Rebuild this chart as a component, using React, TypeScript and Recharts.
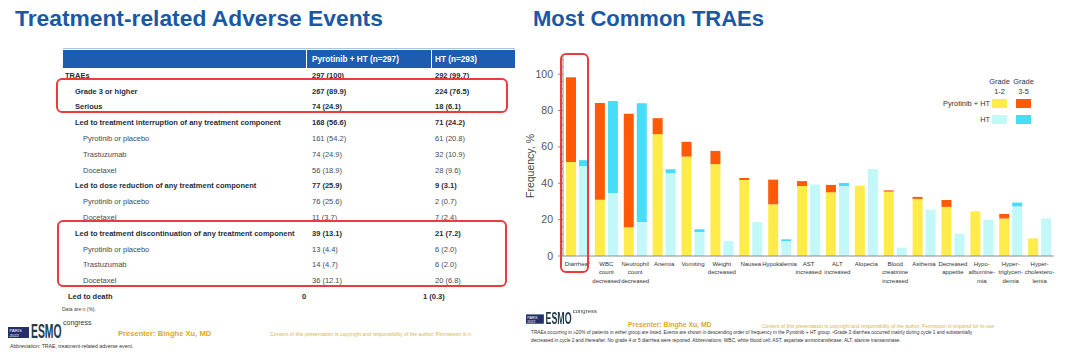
import React from 'react';
import { BarChart, Bar, XAxis, YAxis } from 'recharts';

// ---------- Chart data ----------
const categories = [
  'Diarrhea', 'WBC count decreased', 'Neutrophil count decreased', 'Anemia', 'Vomiting',
  'Weight decreased', 'Nausea', 'Hypokalemia', 'AST increased', 'ALT increased', 'Alopecia',
  'Blood creatinine increased', 'Asthenia', 'Decreased appetite', 'Hypoalbuminemia',
  'Hypertriglyceridemia', 'Hypercholesterolemia',
];
const tickLabelLines: string[][] = [
  ['Diarrhea'], ['WBC', 'count', 'decreased'], ['Neutrophil', 'count', 'decreased'], ['Anemia'],
  ['Vomiting'], ['Weight', 'decreased'], ['Nausea'], ['Hypokalemia'], ['AST', 'increased'],
  ['ALT', 'increased'], ['Alopecia'], ['Blood', 'creatinine', 'increased'], ['Asthenia'],
  ['Decreased', 'appetite'], ['Hypo-', 'albumine-', 'mia'], ['Hyper-', 'triglyceri-', 'demia'],
  ['Hyper-', 'cholestero-', 'lemia'],
];
const pyrGrade12 = [51.7, 31.0, 15.8, 67.0, 54.7, 50.5, 41.8, 28.4, 38.5, 35.0, 38.7, 35.4, 31.4, 27.0, 24.6, 20.6, 9.7];
const pyrGrade35 = [46.6, 53.2, 62.5, 8.8, 8.1, 7.3, 1.1, 13.6, 2.7, 4.1, 0, 0.7, 1.1, 3.8, 0, 2.5, 0];
const htGrade12 = [49.5, 34.7, 18.7, 45.5, 13.2, 8.3, 18.7, 8.1, 39.3, 38.5, 47.9, 4.6, 25.5, 12.3, 20.0, 27.3, 20.7];
const htGrade35 = [3.2, 50.6, 65.3, 2.2, 1.5, 0, 0, 1.1, 0, 1.7, 0, 0, 0, 0, 0, 2.1, 0];
const yMajorTicks = [0, 20, 40, 60, 80, 100];
const yAllTicks = [0, 4, 8, 12, 16, 20, 24, 28, 32, 36, 40, 44, 48, 52, 56, 60, 64, 68, 72, 76, 80, 84, 88, 92, 96, 100, 104, 108];

// ---------- Table data ----------
const rowLabels = [
  'TRAEs', 'Grade 3 or higher', 'Serious', 'Led to treatment interruption of any treatment component',
  'Pyrotinib or placebo', 'Trastuzumab', 'Docetaxel', 'Led to dose reduction of any treatment component',
  'Pyrotinib or placebo', 'Docetaxel', 'Led to treatment discontinuation of any treatment component',
  'Pyrotinib or placebo', 'Trastuzumab', 'Docetaxel', 'Led to death',
];
const pyrColumn = ['297 (100)', '267 (89.9)', '74 (24.9)', '168 (56.6)', '161 (54.2)', '74 (24.9)', '56 (18.9)', '77 (25.9)', '76 (25.6)', '11 (3.7)', '39 (13.1)', '13 (4.4)', '14 (4.7)', '36 (12.1)', '0'];
const htColumn = ['292 (99.7)', '224 (76.5)', '18 (6.1)', '71 (24.2)', '61 (20.8)', '32 (10.9)', '28 (9.6)', '9 (3.1)', '2 (0.7)', '7 (2.4)', '21 (7.2)', '6 (2.0)', '6 (2.0)', '20 (6.8)', '1 (0.3)'];
const rowLevels = [0, 1, 1, 1, 2, 2, 2, 1, 2, 2, 1, 2, 2, 2, 3];

const data = categories.map((name, i) => ({
  name,
  pyr12: pyrGrade12[i],
  pyr35: pyrGrade35[i],
  ht12: htGrade12[i],
  ht35: htGrade35[i],
}));

const FONT = '"Liberation Sans", Arial, sans-serif';
const YELLOW = '#FFEC4A';
const ORANGE = '#FF5A08';
const LIGHTCYAN = '#C2F8F8';
const CYAN = '#45DDF8';
const TITLE_BLUE = '#1B58A4';
const GOLD = '#DDAA22';

const AXIS_X = 63; // local x of y axis
const PLOT_BOTTOM = 216; // local y of x axis

const YTick = (props: any) => {
  const { y, payload } = props;
  const v = payload.value;
  const major = yMajorTicks.includes(v);
  return (
    <g>
      <line x1={AXIS_X} x2={AXIS_X - (major ? 5 : 3)} y1={y} y2={y} stroke="#8a8a8a" strokeWidth={1} />
      {major && (
        <text x={AXIS_X - 10} y={y} dy={3.5} textAnchor="end" fontSize={10.5} fill="#555" fontFamily={FONT}>
          {v}
        </text>
      )}
    </g>
  );
};

const XTick = (props: any) => {
  const { x, payload, index } = props;
  const idx = payload && payload.index !== undefined ? payload.index : index;
  const lines = tickLabelLines[idx] || [String(payload.value)];
  return (
    <text x={x} y={PLOT_BOTTOM + 10} textAnchor="middle" fontSize={6} fill="#333" fontFamily={FONT}>
      {lines.map((l, i) => (
        <tspan key={i} x={x} dy={i === 0 ? 0 : 8.3}>
          {l}
          {idx === 0 && i === 0 ? <tspan fontSize={4} dy={-2.5}>a</tspan> : null}
        </tspan>
      ))}
    </text>
  );
};

const T = ({ x, y, size, color, bold, children, anchor, family, style }: any) => (
  <span
    style={{
      position: 'absolute',
      left: x,
      top: y,
      transform: `translate(${anchor === 'end' ? '-100%' : anchor === 'middle' ? '-50%' : '0'}, -50%)`,
      fontSize: size,
      lineHeight: 1,
      color: color,
      fontWeight: bold ? 700 : 400,
      whiteSpace: 'nowrap',
      fontFamily: family || FONT,
      ...style,
    }}
  >
    {children}
  </span>
);

const RedBox = ({ x, y, w, h }: any) => (
  <div
    style={{
      position: 'absolute',
      left: x,
      top: y,
      width: w,
      height: h,
      border: '2px solid #EE3A3F',
      borderRadius: 6,
      boxSizing: 'border-box',
    }}
  />
);

// Logo: (x, y) is top-left of the logo block
const EsmoLogo = ({ x, y, s = 1 }: any) => (
  <div style={{ position: 'absolute', left: x, top: y, width: 90, height: 20, transform: `scale(${s})`, transformOrigin: 'left top' }}>
    <div
      style={{
        position: 'absolute', left: 0, top: 4, width: 21, height: 11, background: '#24306A',
        color: '#fff', fontSize: 4.2, lineHeight: '5px', fontFamily: FONT, padding: '0.5px 1.5px', boxSizing: 'border-box',
      }}
    >
      PARIS<br />2022
    </div>
    <div style={{ position: 'absolute', left: 23, top: -2, width: 30, height: 20, overflow: 'visible' }}>
      <span
        style={{
          position: 'absolute', left: 0, top: 0, fontSize: 20, fontWeight: 700, lineHeight: '20px',
          fontFamily: FONT, color: '#1E3A4C', whiteSpace: 'nowrap',
          transform: 'scaleX(0.52)', transformOrigin: 'left top', display: 'inline-block',
        }}
      >
        ESMO
      </span>
    </div>
    <span style={{ position: 'absolute', left: 55, top: -4, fontSize: 7, lineHeight: 1, fontFamily: FONT, color: '#2a3a44' }}>
      congress
    </span>
  </div>
);

export default function App() {
  const rowY = (i: number) => 75.7 + i * 15.8;
  return (
    <div
      style={{
        position: 'absolute', left: 0, top: 0, width: 1080, height: 356, background: '#fff',
        overflow: 'hidden', fontFamily: FONT,
      }}
    >
      {/* Titles */}
      <T x={15} y={18} size={22.8} bold color={TITLE_BLUE}>Treatment-related Adverse Events</T>
      <T x={533} y={19} size={22} bold color={TITLE_BLUE}>Most Common TRAEs</T>

      {/* Table header */}
      <div style={{ position: 'absolute', left: 63, top: 48, width: 452, height: 1, background: '#A9C4E4' }} />
      <div style={{ position: 'absolute', left: 63, top: 50, width: 243, height: 18, background: '#1D5CB1' }} />
      <div style={{ position: 'absolute', left: 307, top: 50, width: 124, height: 18, background: '#1D5CB1' }} />
      <div style={{ position: 'absolute', left: 432, top: 50, width: 83, height: 18, background: '#1D5CB1' }} />
      <T x={312} y={59.5} size={8.2} bold color="#fff">Pyrotinib + HT (n=297)</T>
      <T x={435} y={59.5} size={8.2} bold color="#fff">HT (n=293)</T>

      {/* Table rows */}
      {rowLabels.map((label, i) => {
        const lvl = rowLevels[i];
        const bold = lvl !== 2;
        const lx = lvl === 0 ? 65 : lvl === 1 ? 75 : lvl === 2 ? 83 : 68;
        const c1 = lvl === 3 ? 302 : 312;
        const c2 = lvl === 3 ? 423 : 435;
        const color = bold ? '#1E2C3C' : '#3E4B58';
        return (
          <React.Fragment key={i}>
            <T x={lx} y={rowY(i)} size={7.5} bold={bold} color={color}>{label}</T>
            <T x={c1} y={rowY(i)} size={7.5} bold={bold} color={color}>{pyrColumn[i]}</T>
            <T x={c2} y={rowY(i)} size={7.5} bold={bold} color={color}>{htColumn[i]}</T>
          </React.Fragment>
        );
      })}
      <T x={62} y={309} size={5} color="#444">Data are n (%).</T>

      <RedBox x={56} y={78} w={452} h={35} />
      <RedBox x={57} y={220} w={450} h={67} />

      {/* Left footer */}
      <EsmoLogo x={8} y={323} />
      <T x={118} y={334} size={7.6} bold color={GOLD}>Presenter: Binghe Xu, MD</T>
      <T x={270} y={335} size={5.2} color="#D9B54E">
        Content of this presentation is copyright and responsibility of the author. Permission is n
      </T>
      <T x={10} y={347} size={5.2} color="#333">Abbreviation: TRAE, treatment-related adverse event.</T>

      {/* Chart */}
      <div style={{ position: 'absolute', left: 500, top: 40 }}>
        <BarChart
          width={560}
          height={300}
          data={data}
          margin={{ top: 16, right: 6, left: 0, bottom: 0 }}
          barSize={10}
          barGap={3}
        >
          <XAxis
            dataKey="name"
            interval={0}
            tick={<XTick />}
            tickLine={false}
            axisLine={{ stroke: '#8a8a8a' }}
            height={84}
          />
          <YAxis
            domain={[0, 110]}
            ticks={yAllTicks}
            tick={<YTick />}
            tickLine={false}
            axisLine={{ stroke: '#8a8a8a' }}
            width={63}
            allowDataOverflow
            interval={0}
          />
          <Bar dataKey="pyr12" stackId="p" fill={YELLOW} isAnimationActive={false} />
          <Bar dataKey="pyr35" stackId="p" fill={ORANGE} isAnimationActive={false} />
          <Bar dataKey="ht12" stackId="h" fill={LIGHTCYAN} isAnimationActive={false} />
          <Bar dataKey="ht35" stackId="h" fill={CYAN} isAnimationActive={false} />
        </BarChart>
      </div>

      {/* Y axis label */}
      <div
        style={{
          position: 'absolute', left: 530, top: 166, transform: 'translate(-50%, -50%) rotate(-90deg)',
          fontSize: 10.5, color: '#444', whiteSpace: 'nowrap', fontFamily: FONT, lineHeight: 1,
        }}
      >
        Frequency, %
      </div>

      {/* Legend */}
      <T x={999.5} y={82} size={7.4} color="#333" anchor="middle">Grade</T>
      <T x={999.5} y={92} size={7.4} color="#333" anchor="middle">1-2</T>
      <T x={1023.5} y={82} size={7.4} color="#333" anchor="middle">Grade</T>
      <T x={1023.5} y={92} size={7.4} color="#333" anchor="middle">3-5</T>
      <T x={990} y={103.5} size={7.4} color="#333" anchor="end">Pyrotinib + HT</T>
      <T x={990} y={119.5} size={7.4} color="#333" anchor="end">HT</T>
      <div style={{ position: 'absolute', left: 992, top: 99, width: 15, height: 9, background: YELLOW }} />
      <div style={{ position: 'absolute', left: 1016, top: 99, width: 15, height: 9, background: ORANGE }} />
      <div style={{ position: 'absolute', left: 992, top: 115, width: 15, height: 9, background: LIGHTCYAN }} />
      <div style={{ position: 'absolute', left: 1016, top: 115, width: 15, height: 9, background: CYAN }} />

      <RedBox x={560} y={53} w={29} h={220} />

      {/* Right footer */}
      <EsmoLogo x={526} y={311} s={0.85} />
      <T x={628} y={324.5} size={6.8} bold color={GOLD}>Presenter: Binghe Xu, MD</T>
      <T x={762} y={326} size={5} color="#D9B54E">
        Content of this presentation is copyright and responsibility of the author. Permission is required for re-use
      </T>
      <T x={531} y={332.5} size={4.75} color="#333">
        TRAEs occurring in ≥20% of patients in either group are listed. Events are shown in descending order of frequency in the Pyrotinib + HT group. ᵃGrade 3 diarrhea occurred mainly during cycle 1 and substantially
      </T>
      <T x={531} y={340.5} size={4.75} color="#333">
        decreased in cycle 2 and thereafter. No grade 4 or 5 diarrhea were reported. Abbreviations: WBC, white blood cell; AST, aspartate aminotransferase; ALT, alanine transaminase.
      </T>
    </div>
  );
}
